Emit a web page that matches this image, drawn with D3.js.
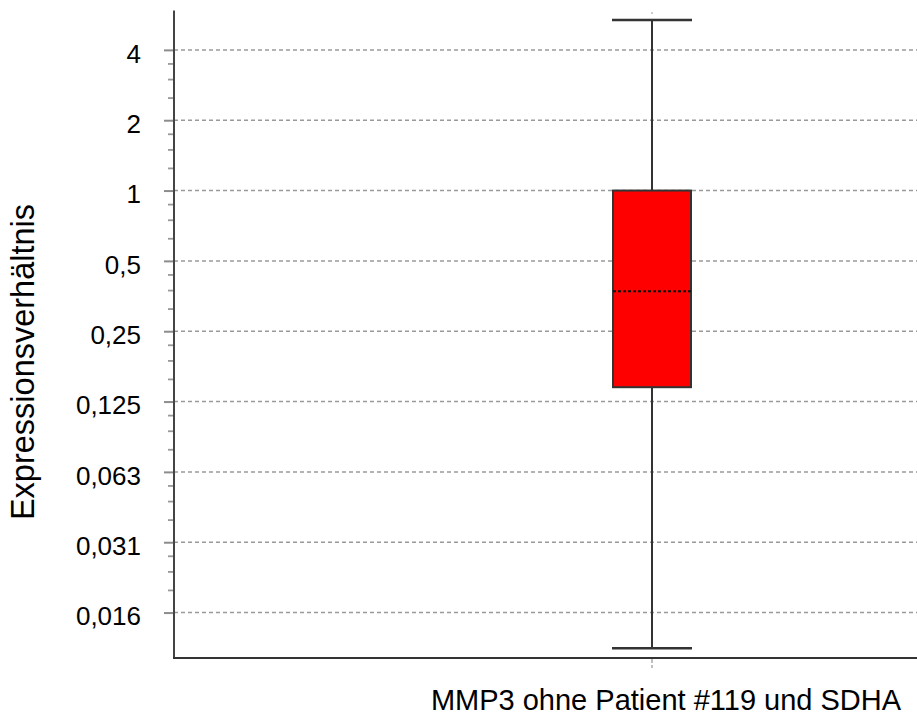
<!DOCTYPE html>
<html>
<head>
<meta charset="utf-8">
<script src="https://cdn.jsdelivr.net/npm/d3@7"></script>
<style>
  html, body { margin: 0; padding: 0; background: #fff; }
  svg { display: block; font-family: Arial, "Liberation Sans", sans-serif; }
</style>
</head>
<body>
<svg id="chart" width="917" height="715"></svg>
<script>
// Category and five-number summary of the expression ratio
const categories = ["MMP3 ohne Patient #119 und SDHA"];
const whiskerLow = [0.011];
const quartile1 = [0.144];
const median = [0.371];
const quartile3 = [1.0];
const whiskerHigh = [5.37];

// Log2 axis ticks and their German-formatted labels
const tickValues = [4, 2, 1, 0.5, 0.25, 0.125, 0.0625, 0.03125, 0.015625];
const tickLabels = ["4", "2", "1", "0,5", "0,25", "0,125", "0,063", "0,031", "0,016"];

const svg = d3.select("#chart");
const plot = { left: 174, top: 10.5, bottom: 658, right: 917 };

const y = d3.scaleLog().base(2)
  .domain([Math.pow(2, -6.646), Math.pow(2, 2.56)])
  .range([plot.bottom, plot.top]);

// Band extends past the visible edge, so the single box sits right of centre
const x = d3.scaleBand().domain(categories).range([plot.left, 1130]);

// Horizontal dashed gridlines at labelled ticks
svg.append("g")
  .selectAll("line")
  .data(tickValues)
  .join("line")
  .attr("x1", plot.left).attr("x2", plot.right)
  .attr("y1", d => y(d)).attr("y2", d => y(d))
  .attr("stroke", "#9a9a9a")
  .attr("stroke-width", 1.5)
  .attr("stroke-dasharray", "4,3");

// Minor ticks: quarter steps inside each octave
const minor = [];
tickValues.slice(1).forEach(b => [1.25, 1.5, 1.75].forEach(f => minor.push(b * f)));

const yAxis = d3.axisLeft(y)
  .tickValues(tickValues)
  .tickSize(10)
  .tickPadding(23)
  .tickFormat((d, i) => tickLabels[i]);

const gy = svg.append("g")
  .attr("transform", `translate(${plot.left},0)`)
  .call(yAxis);
gy.select(".domain").remove();
gy.selectAll(".tick line").attr("stroke", "#8c8c8c").attr("stroke-width", 2);
gy.selectAll(".tick text")
  .attr("font-size", 26)
  .attr("font-family", "Arial, 'Liberation Sans', sans-serif")
  .attr("fill", "#000")
  .attr("dy", "0.47em");

const gMinor = svg.append("g")
  .attr("transform", `translate(${plot.left},0)`)
  .call(d3.axisLeft(y).tickValues(minor).tickSize(6).tickFormat(""));
gMinor.select(".domain").remove();
gMinor.selectAll(".tick line").attr("stroke", "#999").attr("stroke-width", 1.8);

// Faint category tick marks above and below the box column
const cx = x(categories[0]) + x.bandwidth() / 2;
svg.append("line")
  .attr("x1", cx).attr("x2", cx)
  .attr("y1", plot.bottom + 1).attr("y2", plot.bottom + 10)
  .attr("stroke", "#aaa").attr("stroke-width", 1.5)
  .attr("stroke-dasharray", "4,2");
svg.append("line")
  .attr("x1", cx).attr("x2", cx)
  .attr("y1", 12).attr("y2", 14)
  .attr("stroke", "#bbb").attr("stroke-width", 1.5);

// Box plot
const boxW = 78, capW = 80;
const g = svg.append("g");
categories.forEach((c, i) => {
  const xc = x(c) + x.bandwidth() / 2;
  g.append("line")
    .attr("x1", xc).attr("x2", xc)
    .attr("y1", y(whiskerHigh[i])).attr("y2", y(whiskerLow[i]))
    .attr("stroke", "#333").attr("stroke-width", 2);
  [whiskerHigh[i], whiskerLow[i]].forEach(v => {
    g.append("line")
      .attr("x1", xc - capW / 2).attr("x2", xc + capW / 2)
      .attr("y1", y(v)).attr("y2", y(v))
      .attr("stroke", "#333").attr("stroke-width", 2.5);
  });
  g.append("rect")
    .attr("x", xc - boxW / 2)
    .attr("y", y(quartile3[i]))
    .attr("width", boxW)
    .attr("height", y(quartile1[i]) - y(quartile3[i]))
    .attr("fill", "#ff0000")
    .attr("stroke", "#333").attr("stroke-width", 2);
  g.append("line")
    .attr("x1", xc - boxW / 2).attr("x2", xc + boxW / 2 + 2)
    .attr("y1", y(median[i])).attr("y2", y(median[i]))
    .attr("stroke", "#111").attr("stroke-width", 2)
    .attr("stroke-dasharray", "3,2");
});

// Axis lines
svg.append("line")
  .attr("x1", plot.left).attr("x2", plot.left)
  .attr("y1", plot.top).attr("y2", plot.bottom + 1)
  .attr("stroke", "#444").attr("stroke-width", 2);
svg.append("line")
  .attr("x1", plot.left - 1).attr("x2", plot.right)
  .attr("y1", plot.bottom).attr("y2", plot.bottom)
  .attr("stroke", "#333").attr("stroke-width", 2);

// Axis titles
svg.append("text")
  .attr("x", 666).attr("y", 710)
  .attr("text-anchor", "middle")
  .attr("font-size", 29)
  .attr("fill", "#000")
  .text(categories[0]);

svg.append("text")
  .attr("transform", "translate(34,362) rotate(-90)")
  .attr("text-anchor", "middle")
  .attr("font-size", 32.5)
  .attr("fill", "#000")
  .text("Expressionsverhältnis");
</script>
</body>
</html>
